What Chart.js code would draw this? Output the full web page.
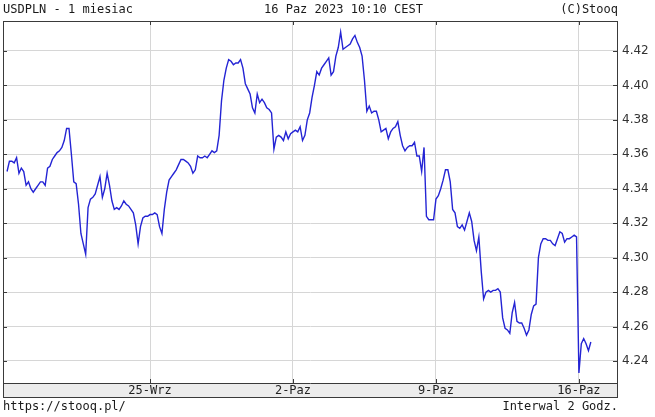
<!DOCTYPE html>
<html>
<head>
<meta charset="utf-8">
<title>USDPLN - 1 miesiac</title>
<script src="https://cdn.jsdelivr.net/npm/chart.js@4.4.0/dist/chart.umd.min.js"></script>
<style>
  body { margin: 0; background: #fff; }
</style>
</head>
<body>
<canvas id="usdpln" width="655" height="417"></canvas>
<script>
// 2-hour bars, bar 0 = first bar on the chart
var rates = [
  4.350, 4.356, 4.356, 4.355, 4.358, 4.349, 4.352, 4.350, 4.342, 4.344,
  4.340, 4.338, 4.340, 4.342, 4.344, 4.344, 4.342, 4.352, 4.353, 4.357,
  4.359, 4.361, 4.362, 4.364, 4.368, 4.375, 4.375, 4.360, 4.344, 4.343,
  4.331, 4.314, 4.308, 4.302, 4.329, 4.334, 4.335, 4.337, 4.342, 4.347,
  4.335, 4.340, 4.349, 4.342, 4.333, 4.328, 4.329, 4.328, 4.330, 4.333,
  4.331, 4.330, 4.328, 4.326, 4.319, 4.308, 4.318, 4.323, 4.324, 4.324,
  4.325, 4.325, 4.326, 4.325, 4.318, 4.314, 4.328, 4.338, 4.345, 4.347,
  4.349, 4.351, 4.354, 4.357, 4.357, 4.356, 4.355, 4.353, 4.349, 4.351,
  4.359, 4.358, 4.358, 4.359, 4.358, 4.360, 4.362, 4.361, 4.362, 4.371,
  4.391, 4.403, 4.410, 4.415, 4.414, 4.412, 4.413, 4.413, 4.415, 4.410,
  4.401, 4.398, 4.395, 4.387, 4.384, 4.395, 4.390, 4.392, 4.390, 4.387,
  4.386, 4.384, 4.363, 4.370, 4.371, 4.370, 4.368, 4.373, 4.369, 4.372,
  4.373, 4.374, 4.373, 4.376, 4.368, 4.371, 4.380, 4.384, 4.393, 4.400,
  4.408, 4.406, 4.410, 4.412, 4.414, 4.416, 4.406, 4.408, 4.417, 4.422,
  4.431, 4.421, 4.422, 4.423, 4.424, 4.427, 4.429, 4.425, 4.422, 4.417,
  4.403, 4.385, 4.388, 4.384, 4.385, 4.385, 4.380, 4.373, 4.374, 4.375,
  4.369, 4.373, 4.375, 4.376, 4.379, 4.371, 4.365, 4.362, 4.364, 4.365,
  4.365, 4.367, 4.359, 4.359, 4.350, 4.364, 4.324, 4.322, 4.322, 4.322,
  4.334, 4.336, 4.340, 4.345, 4.351, 4.351, 4.344, 4.328, 4.326, 4.318,
  4.317, 4.319, 4.316, 4.321, 4.326, 4.321, 4.310, 4.304, 4.312, 4.292,
  4.276, 4.280, 4.281, 4.280, 4.281, 4.281, 4.282, 4.280, 4.265, 4.259,
  4.258, 4.256, 4.268, 4.274, 4.263, 4.262, 4.262, 4.259, 4.255, 4.258,
  4.267, 4.272, 4.273, 4.300, 4.308, 4.311, 4.311, 4.310, 4.310, 4.308,
  4.307, 4.311, 4.315, 4.314, 4.309, 4.311, 4.311, 4.312, 4.313, 4.312,
  4.233, 4.250, 4.253, 4.250, 4.246, 4.251
];

// monday 00:00 of each week, in bars
var weekTicks = [60, 120, 180, 240];
var weekLabels = ['25-Wrz', '2-Paz', '9-Paz', '16-Paz'];

var priceTicks = [4.24, 4.26, 4.28, 4.30, 4.32, 4.34, 4.36, 4.38, 4.40, 4.42];

var monoFont = 'DejaVu Sans Mono';

var frame = {
    id: 'stooqFrame',
    beforeDraw: function (chart) {
        var ctx = chart.ctx, a = chart.chartArea;
        ctx.save();
        ctx.fillStyle = '#ececec';
        ctx.fillRect(a.left, a.bottom, a.right - a.left, 14);
        ctx.restore();
    },
    afterDraw: function (chart) {
        var ctx = chart.ctx, a = chart.chartArea;
        var xs = chart.scales.x, ys = chart.scales.y;
        ctx.save();
        ctx.strokeStyle = '#3a3a3a';
        ctx.lineWidth = 1;
        ctx.strokeRect(a.left + 0.5, a.top + 0.5, a.right - a.left - 1, a.bottom - a.top + 14);
        ctx.beginPath();
        ctx.moveTo(a.left, a.bottom + 0.5);
        ctx.lineTo(a.right, a.bottom + 0.5);
        weekTicks.forEach(function (t) {
            var px = Math.round(xs.getPixelForValue(t)) + 0.5;
            ctx.moveTo(px, a.top);
            ctx.lineTo(px, a.top + 4);
            ctx.moveTo(px, a.bottom - 4);
            ctx.lineTo(px, a.bottom);
        });
        priceTicks.forEach(function (t) {
            var py = Math.round(ys.getPixelForValue(t)) + 0.5;
            ctx.moveTo(a.left, py);
            ctx.lineTo(a.left + 4, py);
            ctx.moveTo(a.right - 5, py);
            ctx.lineTo(a.right, py);
        });
        ctx.stroke();

        ctx.fillStyle = '#1a1a1a';
        ctx.font = '12px "' + monoFont + '"';
        ctx.textBaseline = 'middle';
        ctx.textAlign = 'left';
        ctx.fillText('USDPLN - 1 miesiac', 3, 10);
        ctx.fillText('16 Paz 2023 10:10 CEST', 264, 10);
        ctx.fillText('https://stooq.pl/', 3, 407);
        ctx.textAlign = 'right';
        ctx.fillText('(C)Stooq', 618, 10);
        ctx.fillText('Interwal 2 Godz.', 618, 407);
        ctx.restore();
    }
};

var usdplnChart = new Chart(document.getElementById('usdpln'), {
    type: 'line',
    data: {
        datasets: [{
            data: rates.map(function (v, i) { return { x: i, y: v }; }),
            borderColor: '#2424d4',
            borderWidth: 1.4,
            pointRadius: 0,
            tension: 0,
            fill: false
        }]
    },
    options: {
        responsive: false,
        animation: false,
        devicePixelRatio: 1,
        layout: { padding: { left: 3, top: 21, right: 0, bottom: 20 } },
        plugins: { legend: { display: false }, tooltip: { enabled: false } },
        scales: {
            x: {
                type: 'linear',
                min: -1.7,
                max: 256.4,
                afterBuildTicks: function (s) {
                    s.ticks = weekTicks.map(function (v) { return { value: v }; });
                },
                afterFit: function (s) { s.height = 14; },
                grid: { color: '#d6d6d6', drawTicks: false },
                border: { display: false },
                ticks: {
                    padding: 1,
                    autoSkip: false,
                    maxRotation: 0,
                    color: '#222',
                    font: { family: monoFont, size: 12 },
                    callback: function (v, i) { return weekLabels[i]; }
                }
            },
            y: {
                position: 'right',
                min: 4.2272,
                max: 4.4374,
                afterBuildTicks: function (s) {
                    s.ticks = priceTicks.map(function (v) { return { value: v }; });
                },
                afterFit: function (s) { s.width = 37; },
                grid: { color: '#d6d6d6', drawTicks: false },
                border: { display: false },
                ticks: {
                    padding: 4,
                    color: '#333',
                    font: { family: 'DejaVu Sans', size: 12 },
                    callback: function (v) { return v.toFixed(2); }
                }
            }
        }
    },
    plugins: [frame]
});
</script>
</body>
</html>
